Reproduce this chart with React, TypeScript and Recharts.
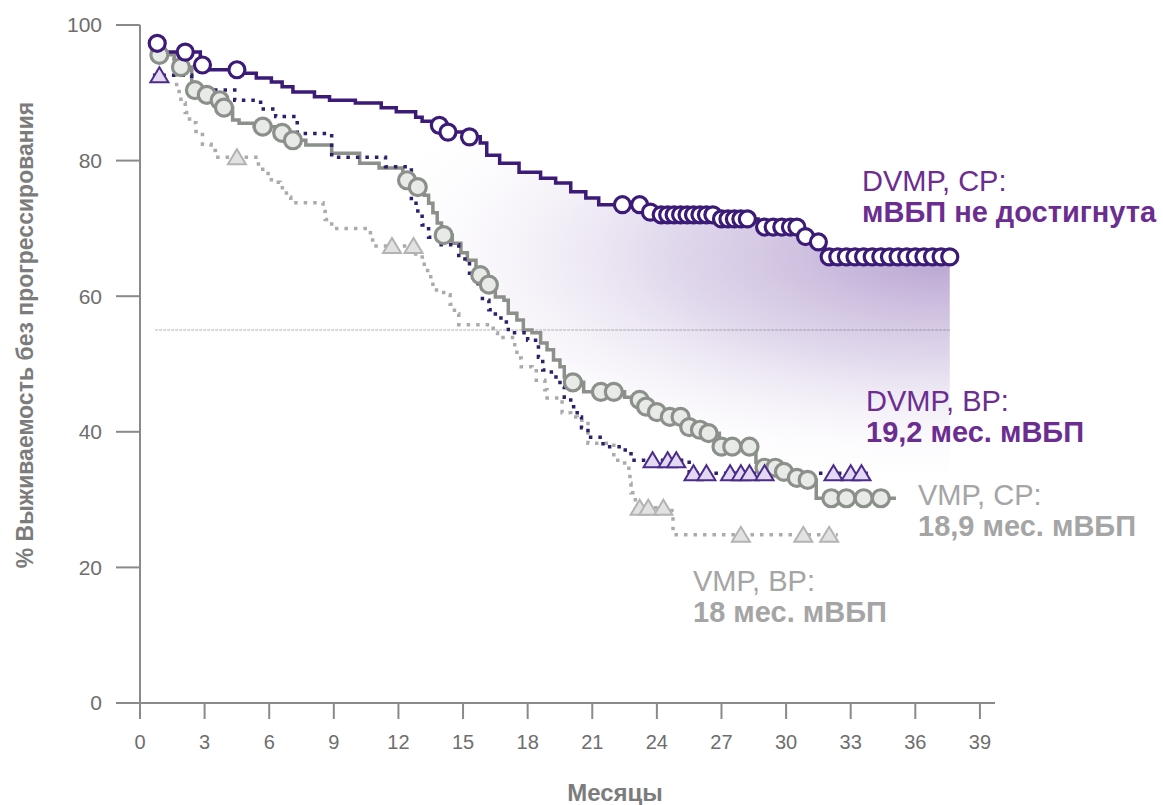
import React from "react"
import {
  ComposedChart,
  Line,
  Area,
  Scatter,
  XAxis,
  YAxis,
} from "recharts"

// Kaplan-Meier steps: [month, % progression-free]
const DVMP_CR_STEPS: [number, number][] = [
  [0.6, 97.3], [1.1, 96.0], [2.8, 94.1], [3.2, 93.4], [4.7, 92.9], [5.4, 92.2],
  [6.1, 91.6], [6.6, 90.9], [7.1, 90.1], [8.1, 89.4], [8.8, 88.9], [10.0, 88.5],
  [11.2, 87.8], [11.9, 87.2], [12.8, 86.4], [13.1, 85.8], [13.6, 85.2], [14.3, 84.2],
  [15.2, 83.5], [15.8, 82.6], [16.1, 80.8], [16.7, 79.6], [17.6, 78.3], [18.6, 77.4],
  [19.3, 76.7], [20.0, 75.4], [20.7, 74.5], [21.3, 73.5], [23.6, 72.4], [24.0, 72.0],
  [26.8, 71.4], [28.7, 70.2], [30.8, 68.8], [31.2, 68.0], [31.8, 65.8], [37.6, 65.8],
]
const DVMP_CR_CENSORED = [
  0.8, 2.1, 2.9, 4.5, 13.9, 14.3, 15.3, 22.4, 23.2, 23.7, 24.2, 24.5, 24.8, 25.1,
  25.4, 25.7, 26.0, 26.3, 26.6, 27.0, 27.3, 27.6, 27.9, 28.2, 29.0, 29.4, 29.8,
  30.2, 30.5, 30.9, 31.5, 32.0, 32.4, 32.8, 33.2, 33.6, 34.0, 34.4, 34.8, 35.2,
  35.6, 36.0, 36.4, 36.8, 37.2, 37.6,
]

const DVMP_VR_STEPS: [number, number][] = [
  [0.6, 92.6], [2.4, 90.4], [4.4, 88.9], [5.6, 87.6], [6.3, 86.5], [7.3, 84.0],
  [8.9, 80.5], [11.4, 79.1], [12.6, 73.7], [12.9, 72.3], [13.1, 70.5], [13.4, 68.7],
  [13.8, 67.6], [14.8, 65.5], [15.3, 63.0], [15.7, 61.5], [15.9, 59.4], [16.2, 58.0],
  [16.5, 56.8], [16.9, 56.2], [17.1, 54.6], [18.0, 53.5], [18.5, 51.0], [18.7, 49.1],
  [19.1, 48.1], [19.5, 46.6], [19.7, 45.1], [20.0, 43.7], [20.3, 42.2], [20.5, 40.6],
  [20.8, 39.2], [21.5, 37.8], [22.4, 37.3], [22.8, 35.8], [25.5, 33.9], [33.8, 33.9],
]
const DVMP_VR_CENSORED = [0.9, 23.8, 24.5, 24.9, 25.7, 26.3, 27.4, 27.9, 28.3, 29.0, 32.2, 33.0, 33.5]

const VMP_CR_STEPS: [number, number][] = [
  [0.6, 96.0], [0.9, 95.6], [1.6, 93.8], [2.4, 90.4], [3.0, 89.7], [3.5, 88.9],
  [3.8, 87.8], [4.3, 86.0], [4.6, 85.5], [5.3, 85.0], [6.4, 84.1], [7.0, 83.0],
  [7.7, 82.3], [8.9, 81.1], [10.2, 79.6], [11.1, 78.9], [12.2, 77.1], [12.8, 76.1],
  [13.2, 74.9], [13.4, 73.7], [13.6, 72.3], [13.8, 70.8], [14.0, 69.0], [14.5, 67.8],
  [14.9, 66.4], [15.2, 65.3], [15.6, 63.1], [16.0, 61.7], [16.5, 59.9], [16.9, 59.4],
  [17.1, 57.5], [17.5, 56.5], [17.8, 55.0], [18.2, 54.6], [18.6, 53.1], [18.9, 52.1],
  [19.2, 50.6], [19.5, 49.6], [19.7, 48.1], [20.0, 47.3], [20.6, 45.9], [22.5, 45.1],
  [23.1, 44.7], [23.4, 43.7], [23.9, 42.9], [24.4, 42.2], [25.3, 40.7], [25.9, 40.3],
  [26.3, 39.8], [26.9, 37.8], [28.6, 35.5], [28.9, 34.7], [29.8, 34.1], [30.4, 33.2],
  [30.9, 32.9], [31.4, 30.2], [35.1, 30.2],
]
const VMP_CR_CENSORED = [
  0.9, 1.9, 2.55, 3.1, 3.7, 3.9, 5.7, 6.6, 7.1, 12.4, 12.9, 14.1, 15.8, 16.2, 20.1,
  21.4, 22.0, 23.2, 23.5, 24.0, 24.6, 25.1, 25.5, 26.0, 26.4, 27.0, 27.5, 28.3, 29.0,
  29.5, 29.9, 30.5, 31.0, 32.1, 32.8, 33.6, 34.4,
]

const VMP_VR_STEPS: [number, number][] = [
  [0.6, 95.0], [1.7, 90.2], [1.9, 88.5], [2.1, 87.1], [2.3, 85.6], [2.6, 84.3],
  [2.9, 82.4], [3.3, 81.5], [3.5, 80.5], [5.5, 79.0], [5.7, 78.1], [6.1, 76.8],
  [6.5, 76.0], [6.8, 74.6], [7.0, 73.8], [8.5, 72.5], [8.6, 71.3], [8.9, 70.0],
  [10.7, 68.8], [10.8, 67.4], [12.8, 65.8], [13.2, 63.8], [13.5, 62.3], [13.6, 60.9],
  [14.1, 60.2], [14.4, 58.8], [14.6, 57.4], [14.8, 55.8], [16.4, 54.6], [16.6, 53.9],
  [17.4, 52.1], [17.5, 50.9], [17.7, 49.6], [18.2, 49.3], [18.4, 47.6], [18.8, 46.2],
  [18.9, 45.0], [19.6, 42.8], [20.0, 42.2], [20.3, 41.7], [20.8, 38.3], [22.0, 35.8],
  [22.5, 35.4], [22.7, 33.9], [22.75, 32.4], [22.8, 31.0], [23.0, 28.8], [24.7, 28.0],
  [24.75, 24.8], [32.4, 24.8],
]
const VMP_VR_CENSORED = [4.5, 11.7, 12.7, 23.2, 23.6, 24.3, 27.9, 30.8, 32.0]

const X_TICKS = [0, 3, 6, 9, 12, 15, 18, 21, 24, 27, 30, 33, 36, 39]
const Y_TICKS = [0, 20, 40, 60, 80, 100]
const MEDIAN_LINE = [{ m: 0.7, v: 55 }, { m: 37.6, v: 55 }]
const SHADE_END = 37.6

const Y_TITLE = "% Выживаемость без прогрессирования"
const X_TITLE = "Месяцы"

function valueAt(steps: [number, number][], m: number) {
  let v = steps[0][1]
  for (const [t, s] of steps) {
    if (t <= m + 1e-9) v = s
    else break
  }
  return v
}

const toPoints = (steps: [number, number][]) => steps.map(([m, v]) => ({ m, v }))
const toMarks = (steps: [number, number][], months: number[]) =>
  months.map((m) => ({ m, v: valueAt(steps, m) }))

const bandMonths = Array.from(
  new Set([...DVMP_CR_STEPS.map((d) => d[0]), ...VMP_CR_STEPS.map((d) => d[0]), SHADE_END])
)
  .filter((m) => m <= SHADE_END)
  .sort((a, b) => a - b)
const bandData = bandMonths.map((m) => ({
  m,
  band: [valueAt(VMP_CR_STEPS, m), valueAt(DVMP_CR_STEPS, m)],
}))

const PURPLE_LINE = "#3b1a78"
const PURPLE_TEXT = "#6b2d90"
const PURPLE_DOT = "#2e1f6c"
const GRAY_LINE = "#8b908b"
const LIGHT_GRAY = "#ababab"
const TEXT_GRAY = "#a5a5a5"

function Circle(stroke: string, fill: string, r: number) {
  return (p: any) => (
    <circle cx={p.cx} cy={p.cy} r={r} stroke={stroke} strokeWidth={3.2} fill={fill} />
  )
}

function Triangle(stroke: string, fill: string) {
  return (p: any) => (
    <path
      d={`M${p.cx - 9},${p.cy + 7} L${p.cx},${p.cy - 8} L${p.cx + 9},${p.cy + 7} Z`}
      stroke={stroke}
      strokeWidth={2}
      fill={fill}
    />
  )
}

function Note({ left, top, color, lines }: { left: number; top: number; color: string; lines: string[] }) {
  return (
    <div
      style={{
        position: "absolute",
        left,
        top,
        color,
        fontFamily: "'Liberation Sans', Arial, sans-serif",
        fontSize: 29,
        lineHeight: "31px",
        whiteSpace: "nowrap",
      }}
    >
      <div>{lines[0]}</div>
      <div style={{ fontWeight: 700 }}>{lines[1]}</div>
    </div>
  )
}

export default function App() {
  const axisColor = "#8a8a8a"
  return (
    <div style={{ position: "absolute", left: 0, top: 0, width: 1163, height: 805, background: "#fff" }}>
      <ComposedChart
        width={1163}
        height={805}
        margin={{ top: 25, right: 168, left: 80, bottom: 52 }}
      >
        <defs>
          <radialGradient
            id="dvmpShade"
            gradientUnits="userSpaceOnUse"
            cx={947}
            cy={255}
            r={620}
            gradientTransform="matrix(1 0 0 0.38 0 158)"
          >
            <stop offset="0%" stopColor="#7a52a8" stopOpacity={0.9} />
            <stop offset="45%" stopColor="#9a7ec0" stopOpacity={0.5} />
            <stop offset="100%" stopColor="#ffffff" stopOpacity={0} />
          </radialGradient>
        </defs>
        <XAxis
          type="number"
          dataKey="m"
          domain={[0, 39.7]}
          ticks={X_TICKS}
          allowDataOverflow
          height={50}
          tickSize={16}
          tickMargin={16}
          axisLine={{ stroke: axisColor, strokeWidth: 2 }}
          tickLine={{ stroke: axisColor, strokeWidth: 2 }}
          tick={{ fill: "#6e6e6e", fontSize: 20, fontFamily: "'Liberation Sans Narrow', 'Liberation Sans', Arial" }}
        />
        <YAxis
          type="number"
          domain={[0, 100]}
          ticks={Y_TICKS}
          width={60}
          tickSize={24}
          tickMargin={14}
          axisLine={{ stroke: axisColor, strokeWidth: 2 }}
          tickLine={{ stroke: axisColor, strokeWidth: 2 }}
          tick={{ fill: "#6e6e6e", fontSize: 21, fontFamily: "'Liberation Sans', Arial" }}
        />
        <Area
          data={bandData}
          dataKey="band"
          type="stepAfter"
          stroke="none"
          fill="url(#dvmpShade)"
          isAnimationActive={false}
        />
        <Line
          data={MEDIAN_LINE}
          dataKey="v"
          stroke="rgba(110,110,110,0.35)"
          strokeWidth={1.5}
          strokeDasharray="3 1"
          dot={false}
          activeDot={false}
          isAnimationActive={false}
        />
        <Line
          data={toPoints(VMP_VR_STEPS)}
          dataKey="v"
          type="stepAfter"
          stroke={LIGHT_GRAY}
          strokeWidth={3.5}
          strokeDasharray="3.5 6"
          dot={false}
          activeDot={false}
          isAnimationActive={false}
        />
        <Scatter
          data={toMarks(VMP_VR_STEPS, VMP_VR_CENSORED)}
          dataKey="v"
          shape={Triangle("#b3b3b3", "#e2e2e2")}
          isAnimationActive={false}
        />
        <Line
          data={toPoints(VMP_CR_STEPS)}
          dataKey="v"
          type="stepAfter"
          stroke={GRAY_LINE}
          strokeWidth={3.5}
          dot={false}
          activeDot={false}
          isAnimationActive={false}
        />
        <Scatter
          data={toMarks(VMP_CR_STEPS, VMP_CR_CENSORED)}
          dataKey="v"
          shape={Circle(GRAY_LINE, "#e8eae8", 8.5)}
          isAnimationActive={false}
        />
        <Line
          data={toPoints(DVMP_VR_STEPS)}
          dataKey="v"
          type="stepAfter"
          stroke={PURPLE_DOT}
          strokeWidth={3.5}
          strokeDasharray="3.5 6"
          dot={false}
          activeDot={false}
          isAnimationActive={false}
        />
        <Scatter
          data={toMarks(DVMP_VR_STEPS, DVMP_VR_CENSORED)}
          dataKey="v"
          shape={Triangle("#4b2b8c", "#e4d9f2")}
          isAnimationActive={false}
        />
        <Line
          data={toPoints(DVMP_CR_STEPS)}
          dataKey="v"
          type="stepAfter"
          stroke={PURPLE_LINE}
          strokeWidth={3.5}
          dot={false}
          activeDot={false}
          isAnimationActive={false}
        />
        <Scatter
          data={toMarks(DVMP_CR_STEPS, DVMP_CR_CENSORED)}
          dataKey="v"
          shape={Circle(PURPLE_LINE, "#ffffff", 8)}
          isAnimationActive={false}
        />
      </ComposedChart>

      <div
        style={{
          position: "absolute",
          left: 25,
          top: 335,
          transform: "translate(-50%, -50%) rotate(-90deg)",
          whiteSpace: "nowrap",
          color: "#7c7c7c",
          fontWeight: 700,
          fontSize: 23,
          fontFamily: "'Liberation Sans Narrow', 'Liberation Sans', Arial",
        }}
      >
        {Y_TITLE}
      </div>
      <div
        style={{
          position: "absolute",
          left: 615,
          top: 793,
          transform: "translate(-50%, -50%)",
          whiteSpace: "nowrap",
          color: "#7c7c7c",
          fontWeight: 700,
          fontSize: 24,
          fontFamily: "'Liberation Sans Narrow', 'Liberation Sans', Arial",
        }}
      >
        {X_TITLE}
      </div>

      <Note left={862} top={166} color={PURPLE_TEXT} lines={["DVMP, CP:", "мВБП не достигнута"]} />
      <Note left={866} top={386} color={PURPLE_TEXT} lines={["DVMP, BP:", "19,2 мес. мВБП"]} />
      <Note left={918} top={480} color={TEXT_GRAY} lines={["VMP, CP:", "18,9 мес. мВБП"]} />
      <Note left={693} top={566} color={TEXT_GRAY} lines={["VMP, BP:", "18 мес. мВБП"]} />
    </div>
  )
}
